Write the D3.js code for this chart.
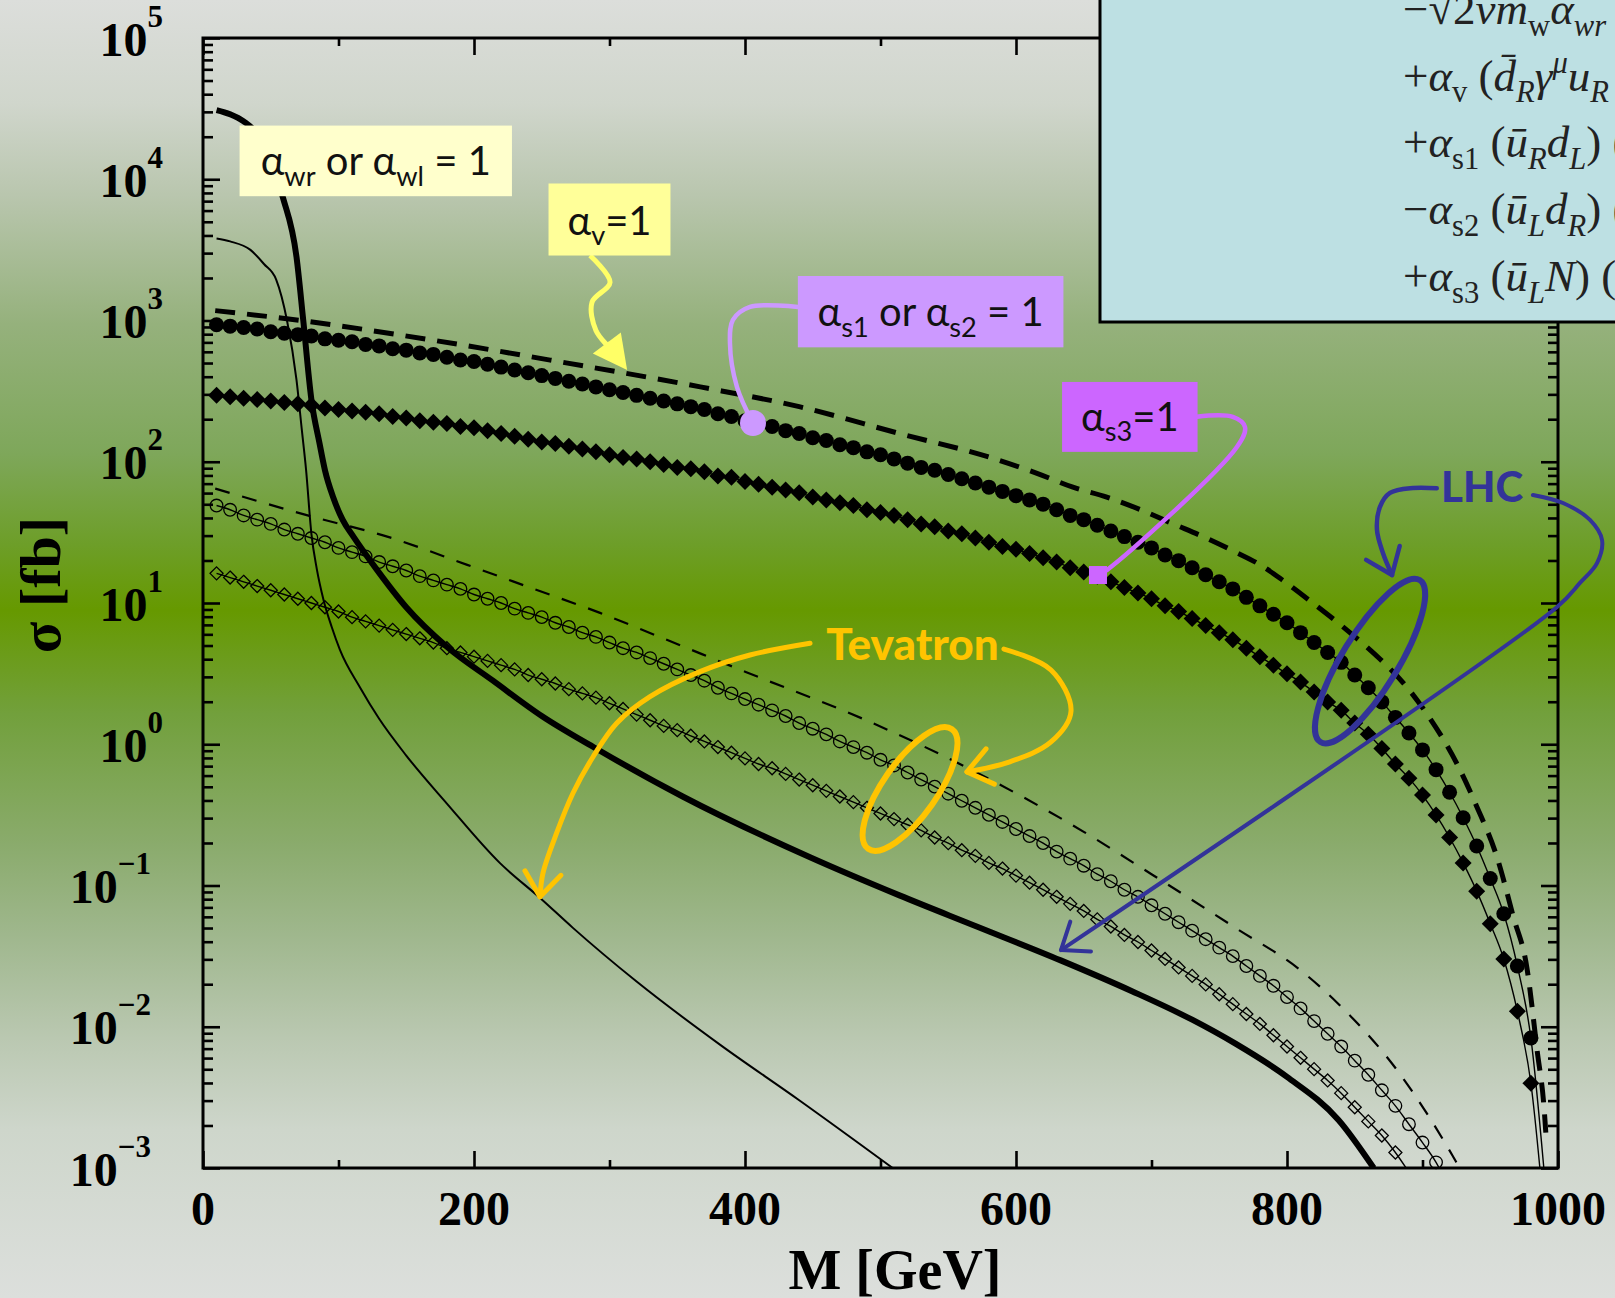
<!DOCTYPE html>
<html>
<head>
<meta charset="utf-8">
<script src="https://cdn.jsdelivr.net/npm/d3@7"></script>
<style>
    body { margin: 0; overflow: hidden; background: #dcdedb; }
    svg { display: block; }
</style>
</head>
<body>
<svg id="chart" width="1615" height="1298"></svg>
<script>
"use strict";

// log10(sigma / fb) every 10 GeV, starting at M = 10 GeV
const massStep = 10;
const lhcS1Lg = [
    2.97, 2.96, 2.95, 2.94, 2.92, 2.91, 2.90, 2.89, 2.87, 2.86,
    2.85, 2.83, 2.82, 2.80, 2.79, 2.77, 2.76, 2.74, 2.72, 2.71,
    2.69, 2.67, 2.65, 2.63, 2.61, 2.59, 2.57, 2.55, 2.53, 2.51,
    2.49, 2.47, 2.45, 2.43, 2.41, 2.39, 2.37, 2.34, 2.32, 2.29,
    2.27, 2.25, 2.22, 2.20, 2.17, 2.15, 2.12, 2.10, 2.07, 2.05,
    2.02, 1.99, 1.96, 1.94, 1.91, 1.88, 1.85, 1.82, 1.79, 1.76,
    1.73, 1.70, 1.66, 1.62, 1.59, 1.55, 1.51, 1.47, 1.43, 1.39,
    1.34, 1.30, 1.25, 1.20, 1.15, 1.10, 1.04, 0.98, 0.92, 0.86,
    0.79, 0.72, 0.65, 0.58, 0.49, 0.40, 0.30, 0.19, 0.08, -0.04,
    -0.18, -0.34, -0.52, -0.72, -0.95, -1.20, -1.57, -2.08, -3.05
];
const lhcS3Lg = [
    2.47, 2.46, 2.45, 2.44, 2.43, 2.42, 2.41, 2.40, 2.38, 2.37,
    2.36, 2.35, 2.34, 2.32, 2.31, 2.29, 2.28, 2.27, 2.25, 2.24,
    2.22, 2.20, 2.18, 2.16, 2.14, 2.13, 2.11, 2.09, 2.07, 2.05,
    2.03, 2.02, 2.00, 1.98, 1.96, 1.95, 1.93, 1.90, 1.89, 1.86,
    1.84, 1.82, 1.80, 1.78, 1.75, 1.73, 1.71, 1.69, 1.66, 1.64,
    1.62, 1.59, 1.56, 1.54, 1.51, 1.49, 1.46, 1.43, 1.40, 1.38,
    1.35, 1.32, 1.29, 1.25, 1.22, 1.19, 1.15, 1.11, 1.07, 1.03,
    0.98, 0.94, 0.89, 0.84, 0.79, 0.74, 0.68, 0.62, 0.56, 0.50,
    0.44, 0.37, 0.30, 0.24, 0.15, 0.07, -0.03, -0.14, -0.24, -0.36,
    -0.50, -0.66, -0.84, -1.04, -1.27, -1.52, -1.89, -2.40, -3.35
];
const tevS1Lg = [
    1.69, 1.66, 1.62, 1.59, 1.56, 1.52, 1.49, 1.46, 1.43, 1.39,
    1.36, 1.33, 1.29, 1.26, 1.23, 1.19, 1.16, 1.13, 1.10, 1.06,
    1.03, 1.00, 0.96, 0.93, 0.90, 0.86, 0.83, 0.79, 0.76, 0.72,
    0.68, 0.65, 0.61, 0.57, 0.53, 0.49, 0.45, 0.40, 0.36, 0.32,
    0.28, 0.24, 0.20, 0.15, 0.11, 0.07, 0.02, -0.02, -0.06, -0.11,
    -0.15, -0.20, -0.25, -0.30, -0.35, -0.40, -0.45, -0.50, -0.55, -0.60,
    -0.65, -0.70, -0.76, -0.81, -0.86, -0.92, -0.97, -1.03, -1.08, -1.14,
    -1.20, -1.26, -1.32, -1.38, -1.44, -1.50, -1.57, -1.64, -1.71, -1.79,
    -1.87, -1.96, -2.05, -2.14, -2.24, -2.34, -2.45, -2.56, -2.69, -2.82,
    -2.96, -3.15
];
const tevS3Lg = [
    1.21, 1.18, 1.15, 1.12, 1.09, 1.06, 1.03, 1.00, 0.97, 0.94,
    0.90, 0.87, 0.84, 0.81, 0.78, 0.75, 0.72, 0.68, 0.65, 0.62,
    0.59, 0.56, 0.53, 0.49, 0.46, 0.43, 0.39, 0.36, 0.33, 0.29,
    0.25, 0.21, 0.17, 0.13, 0.10, 0.06, 0.02, -0.02, -0.06, -0.10,
    -0.14, -0.17, -0.21, -0.25, -0.29, -0.33, -0.37, -0.41, -0.45, -0.49,
    -0.53, -0.57, -0.61, -0.66, -0.70, -0.75, -0.79, -0.84, -0.88, -0.93,
    -0.98, -1.03, -1.08, -1.13, -1.18, -1.24, -1.29, -1.35, -1.40, -1.46,
    -1.52, -1.58, -1.64, -1.70, -1.77, -1.84, -1.91, -1.98, -2.06, -2.14,
    -2.22, -2.30, -2.38, -2.47, -2.57, -2.67, -2.77, -2.89, -3.03
];

// curves without markers: [M (GeV), log10(sigma / fb)]
const lhcWr = [[10, 4.49], [20, 4.46], [30, 4.41], [40, 4.32], [50, 4.13], [59, 3.87], [69, 3.45],
    [74, 3.0], [80, 2.44], [86, 2.13], [90, 1.94], [96, 1.75], [103, 1.59], [111, 1.47], [128, 1.24],
    [150, 0.97], [180, 0.69], [214, 0.45], [250, 0.20], [290, -0.03], [354, -0.37], [448, -0.80],
    [514, -1.07], [571, -1.29], [633, -1.53], [686, -1.75], [730, -1.95], [762, -2.12], [800, -2.355],
    [838, -2.66], [864, -3.0]];
const tevWr = [[10, 3.58], [20, 3.56], [35, 3.50], [45, 3.40], [54, 3.29], [62, 3.0], [69, 2.58],
    [73, 2.22], [76, 1.95], [80, 1.49], [84, 1.24], [89, 1.02], [95, 0.83], [101, 0.67], [116, 0.40],
    [130, 0.18], [150, -0.08], [180, -0.42], [219, -0.84], [249, -1.09], [273, -1.30], [320, -1.68],
    [382, -2.13], [440, -2.52], [509, -3.0]];
const lhcV = [[9, 3.07], [72, 3.0], [170, 2.86], [268, 2.70], [367, 2.53], [440, 2.39], [514, 2.20],
    [581, 2.03], [615, 1.92], [642, 1.82], [667, 1.75], [692, 1.66], [716, 1.56], [738, 1.47], [760, 1.37],
    [782, 1.26], [797, 1.16], [819, 1.0], [844, 0.81], [869, 0.60], [888, 0.41], [905, 0.19], [925, -0.13],
    [940, -0.44], [955, -0.80], [967, -1.22], [977, -1.58], [984.5, -2.16], [990, -2.61], [991, -2.75]];
const tevV = [[9, 1.81], [81, 1.61], [136, 1.47], [195, 1.27], [244, 1.10], [293, 0.93], [337, 0.76],
    [401, 0.51], [487, 0.18], [573, -0.21], [650, -0.62], [700, -0.92], [762, -1.30], [810, -1.60],
    [837, -1.83], [883, -2.33], [922, -2.91], [925, -2.96]];

const xMajor = [0, 200, 400, 600, 800, 1000];
const xMinor = [100, 300, 500, 700, 900];
const yMajor = [1e-3, 1e-2, 1e-1, 1, 1e1, 1e2, 1e3, 1e4, 1e5];

const serif = "'Liberation Serif', 'Times New Roman', serif";
const sans = "Lato, 'Open Sans', 'DejaVu Sans', sans-serif";

const svg = d3.select("#chart");
const W = 1615, H = 1298;
const margin = {left: 203, right: 57, top: 38, bottom: 130};
const x = d3.scaleLinear().domain([0, 1000]).range([margin.left, W - margin.right]);
const y = d3.scaleLog().domain([1e-3, 1e5]).range([H - margin.bottom, margin.top]);

function toPoints(lgs) {
    return lgs.map(function (v, i) {
        return {m: massStep * (i + 1), s: Math.pow(10, v)};
    });
}
function fromPairs(pairs) {
    return pairs.map(function (p) {
        return {m: p[0], s: Math.pow(10, p[1])};
    });
}
function px(p) {
    return [x(p[0]), y(Math.pow(10, p[1]))];
}

// background
const defs = svg.append("defs");
const grad = defs.append("linearGradient").attr("id", "bg")
    .attr("gradientUnits", "userSpaceOnUse").attr("x1", 0).attr("y1", 0).attr("x2", 0).attr("y2", H);
[[0, "#dcdedb"], [0.08, "#d0d6cc"], [0.15, "#b9c6ae"], [0.25, "#95b17c"], [0.35, "#7ea75a"],
    [0.42, "#6d9e28"], [0.47, "#669900"], [0.55, "#72a03c"], [0.65, "#8aab6c"], [0.72, "#9fb78d"],
    [0.80, "#bac8b1"], [0.87, "#ced6cb"], [1, "#dcdfdc"]].forEach(function (s) {
    grad.append("stop").attr("offset", s[0]).attr("stop-color", s[1]);
});
svg.append("rect").attr("width", W).attr("height", H).attr("fill", "url(#bg)");

defs.append("clipPath").attr("id", "plot-clip").append("rect")
    .attr("x", x(0)).attr("y", y(1e5)).attr("width", x(1000) - x(0)).attr("height", y(1e-3) - y(1e5));

// curves
const line = d3.line().x(function (d) { return x(d.m); }).y(function (d) { return y(d.s); })
    .curve(d3.curveMonotoneX);
const curves = svg.append("g").attr("clip-path", "url(#plot-clip)");

function drawCurve(data, width, dash) {
    curves.append("path").datum(data).attr("d", line)
        .attr("fill", "none").attr("stroke", "#000").attr("stroke-width", width)
        .attr("stroke-dasharray", dash || null);
}
drawCurve(fromPairs(lhcWr), 6);
drawCurve(fromPairs(tevWr), 2);
drawCurve(fromPairs(lhcV), 5, "20 12");
drawCurve(fromPairs(tevV), 2.2, "15 13");

const lhcS1 = toPoints(lhcS1Lg), lhcS3 = toPoints(lhcS3Lg);
const tevS1 = toPoints(tevS1Lg), tevS3 = toPoints(tevS3Lg);
[lhcS1, lhcS3, tevS1, tevS3].forEach(function (d) { drawCurve(d, 1.4); });

function visible(d) { return d.s >= 1e-3; }
function diamond(s) { return "M0," + (-s) + "L" + s + ",0L0," + s + "L" + (-s) + ",0Z"; }

const markers = svg.append("g");
markers.selectAll(".lhc-s1").data(lhcS1.filter(visible)).join("circle")
    .attr("cx", function (d) { return x(d.m); }).attr("cy", function (d) { return y(d.s); })
    .attr("r", 7.5).attr("fill", "#000");
markers.selectAll(".lhc-s3").data(lhcS3.filter(visible)).join("path")
    .attr("transform", function (d) { return "translate(" + x(d.m) + "," + y(d.s) + ")"; })
    .attr("d", diamond(8.5)).attr("fill", "#000");
markers.selectAll(".tev-s1").data(tevS1.filter(visible)).join("circle")
    .attr("cx", function (d) { return x(d.m); }).attr("cy", function (d) { return y(d.s); })
    .attr("r", 6.3).attr("fill", "none").attr("stroke", "#000").attr("stroke-width", 1.3);
markers.selectAll(".tev-s3").data(tevS3.filter(visible)).join("path")
    .attr("transform", function (d) { return "translate(" + x(d.m) + "," + y(d.s) + ")"; })
    .attr("d", diamond(6.5)).attr("fill", "none").attr("stroke", "#000").attr("stroke-width", 1.3);

// axes, ticks on all four sides pointing inward
const yMinor = y.ticks().filter(function (v) {
    return Math.abs(Math.log10(v) - Math.round(Math.log10(v))) > 1e-6;
});
function tickAxis(axis, tx, ty, values, size) {
    return svg.append("g").attr("transform", "translate(" + tx + "," + ty + ")")
        .call(axis.tickValues(values).tickSize(-size).tickSizeOuter(0).tickFormat(""))
        .call(function (g) { g.select(".domain").remove(); })
        .call(function (g) { g.selectAll(".tick line").attr("stroke", "#000").attr("stroke-width", 2.6); });
}
const yBottom = y(1e-3), yTop = y(1e5), xLeft = x(0), xRight = x(1000);
tickAxis(d3.axisBottom(x), 0, yBottom, xMajor, 17);
tickAxis(d3.axisBottom(x), 0, yBottom, xMinor, 8);
tickAxis(d3.axisTop(x), 0, yTop, xMajor, 17);
tickAxis(d3.axisTop(x), 0, yTop, xMinor, 8);
const yAxisG = tickAxis(d3.axisLeft(y), xLeft, 0, yMajor, 17);
tickAxis(d3.axisLeft(y), xLeft, 0, yMinor, 10);
tickAxis(d3.axisRight(y), xRight, 0, yMajor, 17);
tickAxis(d3.axisRight(y), xRight, 0, yMinor, 10);

svg.append("rect").attr("x", xLeft).attr("y", yTop).attr("width", xRight - xLeft).attr("height", yBottom - yTop)
    .attr("fill", "none").attr("stroke", "#000").attr("stroke-width", 3);

// x tick labels
svg.append("g").selectAll("text").data(xMajor).join("text")
    .attr("x", function (d) { return x(d); }).attr("y", yBottom + 57)
    .attr("text-anchor", "middle").attr("font-family", serif).attr("font-weight", "bold")
    .attr("font-size", 48).attr("fill", "#000").text(function (d) { return d; });

// y tick labels as 10^n
yAxisG.selectAll(".tick").each(function (d) {
    const n = Math.round(Math.log10(d));
    const t = d3.select(this).append("text")
        .attr("x", n < 0 ? -52 : -40).attr("y", 17).attr("text-anchor", "end")
        .attr("font-family", serif).attr("font-weight", "bold").attr("fill", "#000");
    t.append("tspan").attr("font-size", 48).text("10");
    t.append("tspan").attr("font-size", 31).attr("dy", -29).text(String(n).replace("-", "\u2212"));
});

svg.append("text").attr("x", 895).attr("y", 1289).attr("text-anchor", "middle")
    .attr("font-family", serif).attr("font-weight", "bold").attr("font-size", 56).text("M [GeV]");
svg.append("text").attr("transform", "translate(60,585) rotate(-90)").attr("text-anchor", "middle")
    .attr("font-family", serif).attr("font-weight", "bold").attr("font-size", 58).text("\u03c3 [fb]");

// rich text helper: parts are [text, kind] with kind containing sub / sup / it
function richText(sel, parts, size) {
    let shift = 0;
    parts.forEach(function (p) {
        const kind = p[1] || "";
        const target = kind.indexOf("sub") >= 0 ? size * 0.26 : (kind.indexOf("sup") >= 0 ? -size * 0.4 : 0);
        sel.append("tspan").text(p[0])
            .attr("dy", target - shift)
            .attr("font-size", target !== 0 ? size * 0.68 : size)
            .attr("font-style", kind.indexOf("it") >= 0 ? "italic" : null);
        shift = target;
    });
}

// coupling labels, box extents in data units
const labelBoxes = [
    {parts: [["\u03b1"], ["wr", "sub"], [" or \u03b1"], ["wl", "sub"], [" = 1"]], m: [27, 228], lg: [3.88, 4.38], fill: "#ffffcc"},
    {parts: [["\u03b1"], ["v", "sub"], ["=1"]], m: [255, 345], lg: [3.46, 3.97], fill: "#ffff99"},
    {parts: [["\u03b1"], ["s1", "sub"], [" or \u03b1"], ["s2", "sub"], [" = 1"]], m: [439, 635], lg: [2.81, 3.315], fill: "#cc99ff"},
    {parts: [["\u03b1"], ["s3", "sub"], ["=1"]], m: [634, 734], lg: [2.07, 2.565], fill: "#cc66ff"}
];

const vArrow = [[285.6, 3.46], [300.4, 3.27], [287.1, 3.13], [290, 2.93], [302, 2.79], [313, 2.65]];
const s1Link = [[439, 3.096], [403.7, 3.096], [391.1, 3.004], [388.9, 2.841], [394.1, 2.529], [405.9, 2.274]];
const s3Link = [[733.4, 2.319], [760, 2.317], [769, 2.246], [763, 2.104], [667.2, 1.234], [660.5, 1.198]];
const lhcArrowA = [[910.5, 1.812], [893, 1.814], [876, 1.779], [868.6, 1.68], [866.4, 1.517], [870.8, 1.354], [877.5, 1.198]];
const lhcArrowB = [[981.5, 1.765], [1003.7, 1.708], [1023.6, 1.588], [1032.5, 1.446], [1028.8, 1.283],
    [1016.2, 1.142], [999.3, 0.972], [633.2, -1.457]];
const tevArrowA = [[448, 0.715], [403.7, 0.632], [366.8, 0.514], [329.9, 0.337], [305.3, 0.149],
    [287.8, -0.09], [273.1, -0.345], [261, -0.628], [250.9, -0.912], [248.7, -1.08]];
const tevArrowB = [[591.1, 0.674], [625.8, 0.526], [640.6, 0.235], [625.8, 0.016], [594.8, -0.126], [563.8, -0.196]];

const notes = svg.append("g");
const curvy = d3.line().curve(d3.curveCatmullRom.alpha(0.5));

function drawPath(pts, color, width) {
    const p = pts.map(px);
    notes.append("path").attr("d", curvy(p)).attr("fill", "none")
        .attr("stroke", color).attr("stroke-width", width).attr("stroke-linecap", "round");
    return p;
}
function arms(p, len, ang) {
    const a = p[p.length - 1], b = p[p.length - 2];
    const dir = Math.atan2(a[1] - b[1], a[0] - b[0]);
    return [-ang, ang].map(function (s) {
        return [a[0] - len * Math.cos(dir + s), a[1] - len * Math.sin(dir + s)];
    });
}
function vHead(p, color, width) {
    const a = p[p.length - 1];
    const e = arms(p, 30, 0.65);
    notes.append("path").attr("d", "M" + e[0] + "L" + a + "L" + e[1]).attr("fill", "none")
        .attr("stroke", color).attr("stroke-width", width).attr("stroke-linecap", "round")
        .attr("stroke-linejoin", "round");
}

// yellow arrow with a filled head
const vp = vArrow.map(px);
const vh = arms(vp, 38, 0.48);
notes.append("path").attr("d", curvy(vp.slice(0, -1).concat([[(vh[0][0] + vh[1][0]) / 2, (vh[0][1] + vh[1][1]) / 2]])))
    .attr("fill", "none").attr("stroke", "#ffff66").attr("stroke-width", 5);
notes.append("path").attr("d", "M" + vh[0] + "L" + vp[vp.length - 1] + "L" + vh[1] + "Z").attr("fill", "#ffff66");

drawPath(s1Link, "#cc99ff", 4.5);
const s1End = px(s1Link[s1Link.length - 1]);
notes.append("circle").attr("cx", s1End[0]).attr("cy", s1End[1]).attr("r", 13).attr("fill", "#cc99ff");

drawPath(s3Link, "#cc66ff", 4.5);
const s3End = px(s3Link[s3Link.length - 1]);
notes.append("rect").attr("x", s3End[0] - 9).attr("y", s3End[1] - 9).attr("width", 18).attr("height", 18)
    .attr("fill", "#cc66ff");

labelBoxes.forEach(function (b) {
    const x0 = x(b.m[0]), x1 = x(b.m[1]);
    const y0 = y(Math.pow(10, b.lg[1])), y1 = y(Math.pow(10, b.lg[0]));
    notes.append("rect").attr("x", x0).attr("y", y0).attr("width", x1 - x0).attr("height", y1 - y0)
        .attr("fill", b.fill);
    const t = notes.append("text").attr("x", (x0 + x1) / 2).attr("y", y1 - 21)
        .attr("text-anchor", "middle").attr("font-family", sans).attr("fill", "#111");
    richText(t, b.parts, 40);
});

// LHC annotation
const lhcBlue = "#333399";
const lhcEllipse = px([861.3, 0.589]);
notes.append("ellipse").attr("cx", lhcEllipse[0]).attr("cy", lhcEllipse[1]).attr("rx", 95).attr("ry", 28)
    .attr("transform", "rotate(-58.5," + lhcEllipse[0] + "," + lhcEllipse[1] + ")")
    .attr("fill", "none").attr("stroke", lhcBlue).attr("stroke-width", 6);
vHead(drawPath(lhcArrowA, lhcBlue, 4.5), lhcBlue, 4.5);
vHead(drawPath(lhcArrowB, lhcBlue, 4), lhcBlue, 4);
const lhcText = px([944, 1.715]);
notes.append("text").attr("x", lhcText[0]).attr("y", lhcText[1]).attr("text-anchor", "middle")
    .attr("font-family", sans).attr("font-weight", 900).attr("font-size", 42).attr("fill", lhcBlue)
    .text("LHC");

// Tevatron annotation
const gold = "#ffc400";
const tevEllipse = px([521.8, -0.317]);
notes.append("ellipse").attr("cx", tevEllipse[0]).attr("cy", tevEllipse[1]).attr("rx", 73).attr("ry", 27)
    .attr("transform", "rotate(-55," + tevEllipse[0] + "," + tevEllipse[1] + ")")
    .attr("fill", "none").attr("stroke", gold).attr("stroke-width", 6);
vHead(drawPath(tevArrowA, gold, 5), gold, 5);
vHead(drawPath(tevArrowB, gold, 5), gold, 5);
const tevText = px([523.6, 0.596]);
notes.append("text").attr("x", tevText[0]).attr("y", tevText[1]).attr("text-anchor", "middle")
    .attr("font-family", sans).attr("font-weight", 900).attr("font-size", 44).attr("fill", gold)
    .text("Tevatron");

// operator box in the top right corner, cut by the page edge
const opBox = svg.append("g");
opBox.append("rect").attr("x", 1100).attr("y", -10).attr("width", 600).attr("height", 332)
    .attr("fill", "#bde0e3").attr("stroke", "#000").attr("stroke-width", 3);
const opLines = [
    [["\u2212\u221a2"], ["vm", "it"], ["w", "sub"], ["\u03b1", "it"], ["wr", "sub it"], [" (\u016b", "it"]],
    [["+"], ["\u03b1", "it"], ["v", "sub"], [" ("], ["d\u0304", "it"], ["R", "sub it"], ["\u03b3", "it"], ["\u03bc", "sup it"], ["u", "it"], ["R", "sub it"]],
    [["+"], ["\u03b1", "it"], ["s1", "sub"], [" ("], ["\u016b", "it"], ["R", "sub it"], ["d", "it"], ["L", "sub it"], [") ("]],
    [["\u2212"], ["\u03b1", "it"], ["s2", "sub"], [" ("], ["\u016b", "it"], ["L", "sub it"], ["d", "it"], ["R", "sub it"], [") ("]],
    [["+"], ["\u03b1", "it"], ["s3", "sub"], [" ("], ["\u016b", "it"], ["L", "sub it"], ["N", "it"], [") ("]]
];
opLines.forEach(function (parts, i) {
    const t = opBox.append("text").attr("x", 1403).attr("y", 24 + i * 66.7)
        .attr("font-family", serif).attr("fill", "#222");
    richText(t, parts, 45);
});
</script>
</body>
</html>
